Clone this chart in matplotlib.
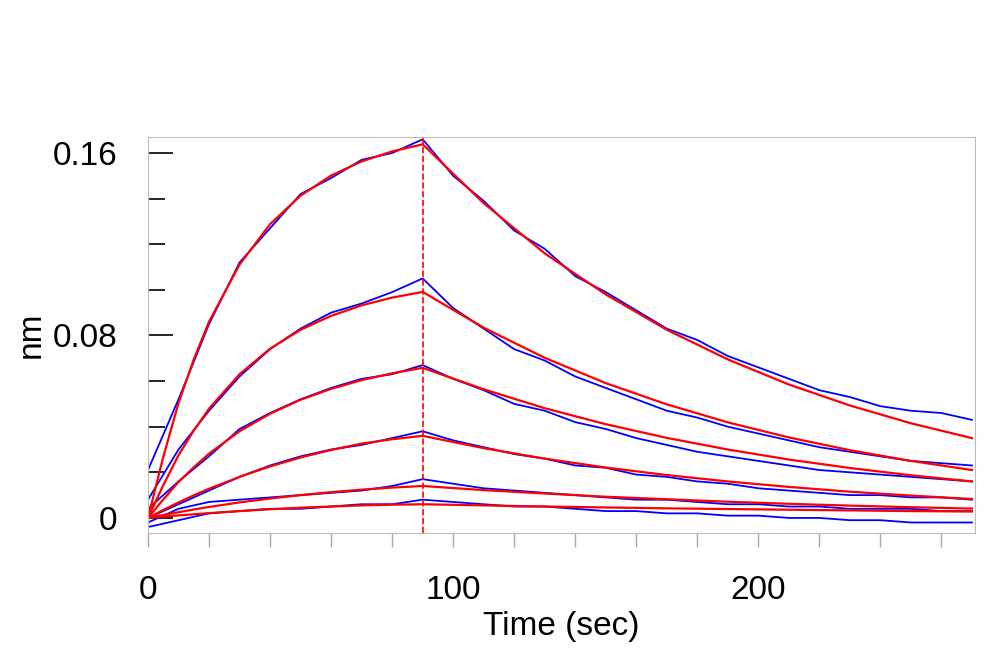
import matplotlib
matplotlib.use("Agg")
import matplotlib.pyplot as plt
from matplotlib.ticker import MultipleLocator, FixedLocator

plt.rcParams["font.family"] = "Liberation Sans"

t_fit = [0,5,10,15,20,30,40,50,60,70,80,90,110,130,150,170,190,210,230,250,270]
fit1 = [0,0.0267,0.0504,0.0695,0.0860,0.1111,0.1288,0.1413,0.1501,0.1563,0.1607,0.1638,0.138,0.116,0.098,0.0825,0.0695,0.0585,0.0493,0.0415,0.035]
fit2 = [0,0.0143,0.0275,0.0383,0.0479,0.0630,0.0742,0.0825,0.0886,0.0932,0.0966,0.0991,0.0834,0.0702,0.0591,0.0498,0.0419,0.0353,0.0297,0.0250,0.021]
fit3 = [0,0.0081,0.01575,0.0222,0.0282,0.038,0.0457,0.0518,0.0566,0.0604,0.0634,0.0658,0.0564,0.0481,0.0411,0.0351,0.0300,0.0256,0.0219,0.0187,0.016]
fit4 = [0,0.0035,0.0068,0.0099,0.0128,0.0180,0.0226,0.0265,0.0298,0.0326,0.0345,0.036,0.0306,0.026,0.0221,0.0188,0.016,0.0136,0.0115,0.0098,0.0083]
fit5 = [0,0.0013,0.0025,0.0037,0.0048,0.0068,0.0085,0.0100,0.0113,0.0124,0.0133,0.014,0.0122,0.0107,0.0093,0.0082,0.0071,0.0062,0.0054,0.0047,0.0041]
fit6 = [0,0.0006,0.0011,0.0016,0.0021,0.003,0.0038,0.0045,0.005,0.0055,0.0058,0.006,0.0055,0.005,0.0046,0.0042,0.0039,0.0036,0.0033,0.003,0.0028]

t_data = list(range(0, 271, 10))
data1 = [0.021,0.052,0.085,0.112,0.127,0.142,0.149,0.157,0.160,0.166,0.150,0.139,0.126,0.118,0.106,0.099,0.091,0.083,0.078,0.071,0.066,0.061,0.056,0.053,0.049,0.047,0.046,0.043]
data2 = [0.008,0.030,0.047,0.062,0.074,0.083,0.090,0.094,0.099,0.105,0.092,0.083,0.074,0.069,0.062,0.057,0.052,0.047,0.044,0.040,0.037,0.034,0.031,0.029,0.027,0.025,0.024,0.023]
data3 = [0.004,0.016,0.027,0.039,0.046,0.052,0.057,0.061,0.063,0.067,0.061,0.056,0.050,0.047,0.042,0.039,0.035,0.032,0.029,0.027,0.025,0.023,0.021,0.020,0.019,0.018,0.017,0.016]
data4 = [0.0,0.006,0.012,0.018,0.023,0.027,0.030,0.032,0.035,0.038,0.034,0.031,0.028,0.026,0.023,0.022,0.019,0.018,0.016,0.015,0.013,0.012,0.011,0.010,0.010,0.009,0.009,0.008]
data5 = [-0.002,0.004,0.007,0.008,0.009,0.010,0.011,0.012,0.014,0.017,0.015,0.013,0.012,0.011,0.010,0.009,0.008,0.008,0.007,0.006,0.006,0.005,0.005,0.004,0.004,0.004,0.003,0.003]
data6 = [-0.004,-0.001,0.002,0.003,0.004,0.004,0.005,0.006,0.006,0.008,0.007,0.006,0.005,0.005,0.004,0.003,0.003,0.002,0.002,0.001,0.001,0.000,0.000,-0.001,-0.001,-0.002,-0.002,-0.002]

x_ticks = [0, 100, 200]
y_ticks = [0, 0.08, 0.16]
y_ticklabels = ["0", "0.08", "0.16"]
switch_time = 90

fig = plt.figure(figsize=(10, 6.7), dpi=100)
ax = fig.add_axes([0.148, 0.2045, 0.827, 0.591])
for d in [data1, data2, data3, data4, data5, data6]:
    ax.plot(t_data, d, color="#0000ff", lw=1.3)
for f in [fit1, fit2, fit3, fit4, fit5, fit6]:
    ax.plot(t_fit, f, color="#ff0000", lw=1.6)
ax.axvline(switch_time, color="#ff0000", ls="--", lw=1.2)

ax.set_xlim(0, 271)
ax.set_ylim(-0.0066, 0.167)
ax.xaxis.set_major_locator(FixedLocator(x_ticks))
ax.xaxis.set_minor_locator(MultipleLocator(20))
ax.yaxis.set_major_locator(FixedLocator(y_ticks))
ax.set_yticklabels(y_ticklabels)
ax.yaxis.set_minor_locator(MultipleLocator(0.02))
ax.tick_params(axis="y", which="both", direction="in", length=18, width=1.2, labelsize=24, pad=22, colors="black")
ax.tick_params(axis="y", which="minor", length=12)
ax.tick_params(axis="x", which="both", direction="out", length=10, width=1, labelsize=24, pad=20, color="#aaaaaa")
for s in ax.spines.values():
    s.set_color("#bbbbbb")
ax.set_xlabel("Time (sec)", fontsize=24, labelpad=4)
ax.set_ylabel("nm", fontsize=24, labelpad=4)
fig.savefig("out.png")
